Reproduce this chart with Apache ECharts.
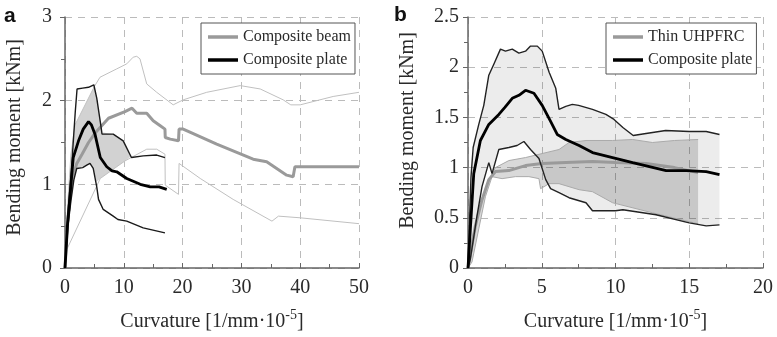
<!DOCTYPE html>
<html>
<head>
<meta charset="utf-8">
<script src="https://cdn.jsdelivr.net/npm/echarts@6/dist/echarts.min.js"></script>
<style>html,body{margin:0;padding:0;background:#fff}#c{width:777px;height:337px}</style>
</head>
<body>
<div id="c"></div>
<script>
// ---------- Panel a data ----------
const aXTicks = [0, 10, 20, 30, 40, 50];
const aYTicks = [0, 1, 2, 3];
const beamMeanA = [[0,0],[0.5,0.6],[1.2,1.05],[2,1.25],[2.9,1.36],[4,1.5],[5.2,1.62],[7.4,1.79],[10.2,1.87],[11.4,1.91],[11.7,1.9],[12.2,1.85],[13.9,1.85],[15,1.76],[16.2,1.7],[17,1.66],[17.05,1.56],[17.9,1.54],[19.3,1.52],[19.4,1.66],[20.1,1.66],[25.8,1.48],[32,1.3],[34.3,1.27],[37.7,1.11],[38.8,1.09],[39.1,1.21],[50,1.21]];
const beamUpA = [[0,0],[0.5,0.8],[1,1.35],[1.7,1.71],[5,2.17],[5.95,2.28],[8.8,2.38],[10.5,2.44],[11.6,2.52],[12.2,2.53],[12.75,2.5],[13.9,2.2],[15.6,2.1],[18.4,1.95],[20.1,2.01],[24.1,2.1],[29.8,2.18],[33.2,2.14],[37.1,2.01],[38.4,1.95],[40,1.95],[45.6,2.05],[50,2.1]];
const beamLoA = [[0,0],[0.3,0.22],[6,1.07],[10.2,1.28],[13.9,1.42],[15.6,1.42],[17,1.36],[17.05,0.99],[19.3,0.88],[19.4,1.25],[23,1.07],[28.6,0.82],[35.2,0.56],[36.3,0.62],[40,0.6],[50,0.53]];
const plateMeanA = [[0,0],[0.4,0.5],[0.85,0.86],[1.4,1.32],[2.3,1.52],[3.1,1.66],[4.0,1.75],[4.5,1.71],[5.1,1.6],[6.0,1.32],[7.1,1.21],[8.0,1.16],[8.8,1.15],[10.5,1.07],[12.8,1.0],[14.5,0.97],[16,0.97],[17.3,0.94]];
const plateUpA = [[0,0],[0.6,0.74],[1.2,1.29],[1.75,1.87],[2.05,2.14],[3,2.15],[4,2.16],[4.9,2.19],[5.4,2.03],[6.0,1.75],[6.3,1.6],[6.5,1.62],[8.2,1.6],[9.9,1.52],[11.3,1.32],[13.3,1.34],[15.6,1.35],[17,1.32]];
const plateLoA = [[0,0],[0.5,0.5],[1,0.8],[1.5,1.05],[2.0,1.19],[3.0,1.2],[3.7,1.23],[4.25,1.25],[4.8,1.19],[5.4,0.97],[5.7,0.82],[6.5,0.7],[8.2,0.62],[9,0.58],[10.5,0.56],[13.3,0.48],[17,0.42]];
// overlap of the two scatter bands (shaded), outline
const overlapA = [[0.2,0.25],[0.6,0.74],[1.2,1.29],[1.7,1.71],[5.0,2.17],[5.4,2.03],[6.0,1.75],[6.3,1.6],[6.5,1.62],[8.2,1.6],[9.9,1.52],[11.1,1.33],[10.2,1.28],[6.0,1.07],[5.35,1.03],[4.8,1.19],[4.25,1.25],[3.7,1.23],[2.0,1.19],[1.5,1.05],[1.0,0.8],[0.5,0.5]];

// ---------- Panel b data ----------
const bXTicks = [0, 5, 10, 15, 20];
const bYTicks = [0, 0.5, 1, 1.5, 2, 2.5];
const plateUpB = [[0,0],[0.1,0.45],[0.2,0.9],[0.35,1.2],[0.73,1.43],[1.07,1.62],[1.41,1.92],[1.75,2.03],[2.2,2.18],[2.54,2.16],[3.0,2.18],[3.45,2.14],[3.9,2.16],[4.24,2.21],[4.7,2.21],[5.03,2.16],[5.5,1.95],[5.95,1.79],[6.17,1.58],[6.63,1.61],[7.07,1.63],[7.5,1.62],[8.44,1.58],[9.35,1.53],[9.9,1.48],[10.5,1.4],[11.2,1.32],[12.07,1.34],[13.4,1.37],[15.0,1.36],[16.15,1.36],[17.05,1.33]];
const plateMeanB = [[0,0],[0.16,0.39],[0.39,0.94],[0.84,1.27],[1.41,1.43],[2.09,1.53],[2.5,1.6],[3.0,1.69],[3.45,1.72],[3.9,1.77],[4.47,1.74],[5.03,1.62],[5.6,1.46],[6.05,1.33],[6.63,1.28],[7.53,1.22],[8.44,1.15],[9.8,1.1],[11.16,1.05],[13.43,0.97],[14.8,0.97],[16.15,0.96],[17.05,0.93]];
const plateLoB = [[0,0],[0.16,0.09],[0.61,0.52],[0.95,0.81],[1.41,1.05],[1.63,0.94],[2.09,1.18],[2.77,1.2],[3.33,1.22],[3.79,1.26],[4.24,1.18],[4.81,1.09],[5.27,0.88],[5.6,0.79],[6.17,0.75],[6.85,0.7],[8.0,0.65],[8.44,0.57],[10.0,0.57],[10.5,0.58],[12.75,0.53],[15,0.45],[16.15,0.42],[17.05,0.43]];
const uhpMeanB = [[0,0],[0.5,0.42],[0.95,0.68],[1.41,0.88],[1.86,0.96],[2.77,0.97],[3.9,1.02],[5.03,1.04],[6.63,1.05],[8.44,1.06],[10,1.05],[12.07,1.04],[14,1.0],[15.6,0.95]];
const uhpUpB = [[0,0],[0.3,0.3],[0.73,0.58],[1.3,0.84],[1.86,1.0],[2.77,1.07],[3.9,1.1],[5.03,1.14],[6.17,1.18],[6.85,1.25],[8.0,1.27],[9.8,1.27],[11.16,1.28],[12.5,1.25],[14,1.27],[15.6,1.28]];
const uhpLoB = [[0,0],[0.27,0.06],[0.73,0.39],[1.18,0.71],[1.63,0.91],[2.31,0.89],[3.22,0.91],[4.13,0.91],[4.81,0.89],[4.92,0.79],[5.5,0.84],[6.17,0.84],[7.53,0.78],[8.44,0.76],[9.8,0.65],[12.5,0.55],[15.6,0.44]];

const SERIF = 'Liberation Serif';
const TXT = '#2a2a2a';

function bandPoly(up, lo) { return up.concat(lo.slice().reverse()); }

function polySeries(points, fill, xi) {
  return {
    type: 'custom', xAxisIndex: xi, yAxisIndex: xi, silent: true, z: 1,
    data: points, encode: { x: 0, y: 1 },
    renderItem: function (params, api) {
      if (params.dataIndex !== 0) return null;
      return { type: 'polygon', shape: { points: points.map(p => api.coord(p)) }, style: { fill: fill } };
    }
  };
}
function lineSeries(name, data, color, width, xi, z) {
  return { name: name, type: 'line', data: data, xAxisIndex: xi, yAxisIndex: xi, showSymbol: false,
    symbol: 'none', lineStyle: { color: color, width: width }, itemStyle: { color: color },
    z: z || 3, silent: true };
}
function xAxis(gi, max, interval, name) {
  return {
    gridIndex: gi, type: 'value', min: 0, max: max, interval: interval,
    name: name, nameLocation: 'middle', nameGap: 40,
    nameTextStyle: { fontFamily: SERIF, fontSize: 20, color: TXT,
      rich: { s: { fontFamily: SERIF, fontSize: 14, color: TXT, padding: [0, 0, 14, 0] } } },
    axisLine: { lineStyle: { color: '#666', width: 1.5 } },
    axisTick: { show: true, inside: true, length: 5, lineStyle: { color: '#666' } },
    minorTick: { show: true, splitNumber: 2, length: 4, lineStyle: { color: '#666' } },
    axisLabel: { fontFamily: SERIF, fontSize: 20, color: TXT, margin: 10 },
    splitLine: { show: true, lineStyle: { color: '#bbb', type: [7, 6], width: 1 } }
  };
}
function yAxis(gi, max, interval, margin, gap, shift) {
  return {
    gridIndex: gi, type: 'value', min: 0, max: max, interval: interval,
    name: 'Bending moment [kNm]', nameLocation: 'middle', nameGap: gap, nameRotate: 90,
    nameTextStyle: { fontFamily: SERIF, fontSize: 20, color: TXT, padding: [0, 0, 0, shift] },
    axisLine: { show: true, lineStyle: { color: '#666', width: 1.5 } },
    axisTick: { show: true, inside: false, length: 5, lineStyle: { color: '#666' } },
    minorTick: { show: true, splitNumber: 2, length: 4, lineStyle: { color: '#666' } },
    axisLabel: { fontFamily: SERIF, fontSize: 20, color: TXT, margin: margin },
    splitLine: { show: true, lineStyle: { color: '#bbb', type: [7, 6], width: 1 } }
  };
}
function legend(left, names) {
  return {
    left: left, top: 23, orient: 'vertical', data: names, icon: 'rect',
    itemWidth: 30, itemHeight: 3.5, itemGap: 5, itemTextGap: 4,
    padding: [5, 4, 5, 7], borderColor: '#555', borderWidth: 1, backgroundColor: '#fff',
    textStyle: { fontFamily: SERIF, fontSize: 16, color: TXT, lineHeight: 18 },
    selectedMode: false
  };
}

const chart = echarts.init(document.getElementById('c'), null, { renderer: 'canvas' });
const xName = 'Curvature [1/mm·10{s|-5}]';
chart.setOption({
  animation: false,
  backgroundColor: '#fff',
  grid: [
    { left: 65, top: 17, width: 294, height: 256 },
    { left: 468, top: 17, width: 295, height: 256 }
  ],
  xAxis: [xAxis(0, 50, 10, xName), xAxis(1, 20, 5, xName)],
  yAxis: [yAxis(0, 3, 1, 13, 40, 10), yAxis(1, 2.5, 0.5, 9, 50, 24)],
  legend: [
    legend(201, ['Composite beam', 'Composite plate']),
    legend(606, ['Thin UHPFRC', 'Composite plate'])
  ],
  graphic: [
    { type: 'text', left: 4, top: 6, style: { text: 'a', font: 'bold 21px "Liberation Sans"', fill: '#111' } },
    { type: 'text', left: 394, top: 5, style: { text: 'b', font: 'bold 21px "Liberation Sans"', fill: '#111' } }
  ],
  series: [
    // panel a
    polySeries(overlapA, '#d2d2d2', 0),
    lineSeries(null, beamUpA, '#c0c0c0', 1, 0, 2),
    lineSeries(null, beamLoA, '#c0c0c0', 1, 0, 2),
    lineSeries('Composite beam', beamMeanA, '#9a9a9a', 3, 0, 3),
    lineSeries(null, plateUpA, '#1a1a1a', 1.4, 0, 4),
    lineSeries(null, plateLoA, '#1a1a1a', 1.4, 0, 4),
    lineSeries('Composite plate', plateMeanA, '#000', 2.8, 0, 5),
    // panel b
    polySeries(bandPoly(plateUpB, plateLoB), 'rgba(0,0,0,0.075)', 1),
    polySeries(bandPoly(uhpUpB, uhpLoB), 'rgba(0,0,0,0.15)', 1),
    lineSeries(null, uhpUpB, '#aaaaaa', 1, 1, 2),
    lineSeries(null, uhpLoB, '#aaaaaa', 1, 1, 2),
    lineSeries('Thin UHPFRC', uhpMeanB, '#9a9a9a', 3, 1, 3),
    lineSeries(null, plateUpB, '#222', 1.4, 1, 4),
    lineSeries(null, plateLoB, '#222', 1.4, 1, 4),
    lineSeries('Composite plate', plateMeanB, '#000', 2.8, 1, 5)
  ]
});
</script>
</body>
</html>
